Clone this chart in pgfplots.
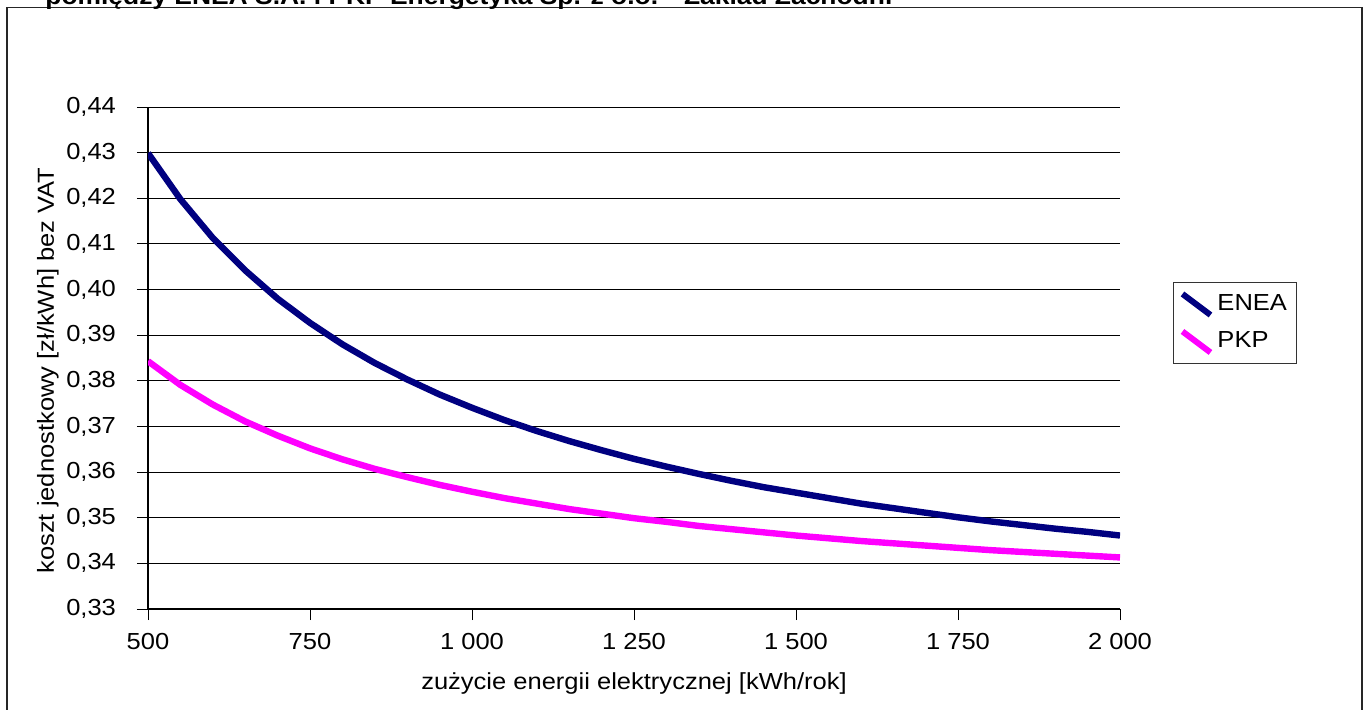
\documentclass[border=0pt]{standalone}
\usepackage{pgfplots}
\pgfplotsset{compat=1.18}
\usepackage{fontspec}
\setmainfont{Liberation Sans}[FakeStretch=1.1]
\definecolor{enea}{RGB}{0,0,128}
\definecolor{pkp}{RGB}{255,0,255}
\newcommand{\chfont}{\fontsize{11.6}{13.5}\selectfont}
\begin{document}
\begin{tikzpicture}
\useasboundingbox (0,0) rectangle (683.5pt,354.5pt);
\draw[line width=0.8pt, black!85] (3.5pt,-10pt) rectangle (681pt,350.8pt);
\node[anchor=base west, inner sep=0pt, font=\fontsize{12}{14}\selectfont\bfseries] at (22.5pt,352.3pt) {pomiędzy ENEA S.A. i PKP Energetyka Sp. z o.o. - Zakład Zachodni};
\begin{axis}[
  at={(74pt,50pt)}, anchor=south west,
  scale only axis, width=486pt, height=251pt,
  xmin=500, xmax=2000, ymin=0.33, ymax=0.44,
  axis x line*=bottom, axis y line*=left,
  axis line style={black, line width=0.8pt},
  xtick={500,750,1000,1250,1500,1750,2000},
  ytick={0.33,0.34,0.35,0.36,0.37,0.38,0.39,0.40,0.41,0.42,0.43,0.44},
  tick align=outside, major tick length=5.5pt,
  tick style={black, line width=0.5pt},
  ymajorgrids, grid style={black, line width=0.5pt},
  /pgf/number format/assume math mode=true,
  /pgf/number format/use comma,
  /pgf/number format/1000 sep={\ },
  scaled y ticks=false, scaled x ticks=false,
  yticklabel style={/pgf/number format/fixed, /pgf/number format/fixed zerofill, /pgf/number format/precision=2, /tikz/xshift=-7pt},
  xticklabel style={/tikz/yshift=-3pt},
  ticklabel style={font=\chfont},
  xlabel={zużycie energii elektrycznej [kWh/rok]},
  ylabel={koszt jednostkowy [zł/kWh] bez VAT},
  label style={font=\chfont},
  xlabel style={at={(axis description cs:0.5,-0.1474)}, anchor=center},
  ylabel style={at={(axis description cs:-0.1029,0.475)}, anchor=center},
  legend style={at={(rel axis cs:1.0545,0.6514)}, anchor=north west,
    draw=black!80, line width=0.5pt, font=\chfont,
    inner xsep=3pt, inner ysep=4pt, row sep=5pt},
  legend cell align=left,
  legend image code/.code={\draw[#1, line width=3pt] (0pt,5pt) -- (14pt,-5.5pt);},
]
\addplot[enea, line width=3.2pt] coordinates {
(500,0.4299) (550,0.4198) (600,0.4113) (650,0.4042) (700,0.3980)
(750,0.3927) (800,0.3880) (850,0.3839) (900,0.3803) (950,0.3770)
(1000,0.3741) (1050,0.3714) (1100,0.3690) (1150,0.3668) (1200,0.3648)
(1250,0.3629) (1300,0.3612) (1350,0.3596) (1400,0.3581) (1450,0.3567)
(1500,0.3555) (1550,0.3543) (1600,0.3531) (1650,0.3521) (1700,0.3511)
(1750,0.3501) (1800,0.3492) (1850,0.3484) (1900,0.3476) (1950,0.3469)
(2000,0.3461)};
\addlegendentry{ENEA}
\addplot[pkp, line width=3.2pt] coordinates {
(500,0.3843) (550,0.3791) (600,0.3748) (650,0.3711) (700,0.3680)
(750,0.3652) (800,0.3628) (850,0.3607) (900,0.3589) (950,0.3572)
(1000,0.3557) (1050,0.3543) (1100,0.3531) (1150,0.3519) (1200,0.3509)
(1250,0.3499) (1300,0.3491) (1350,0.3482) (1400,0.3475) (1450,0.3468)
(1500,0.3461) (1550,0.3455) (1600,0.3449) (1650,0.3444) (1700,0.3439)
(1750,0.3434) (1800,0.3429) (1850,0.3425) (1900,0.3421) (1950,0.3417)
(2000,0.3413)};
\addlegendentry{PKP}
\end{axis}
\end{tikzpicture}
\end{document}
